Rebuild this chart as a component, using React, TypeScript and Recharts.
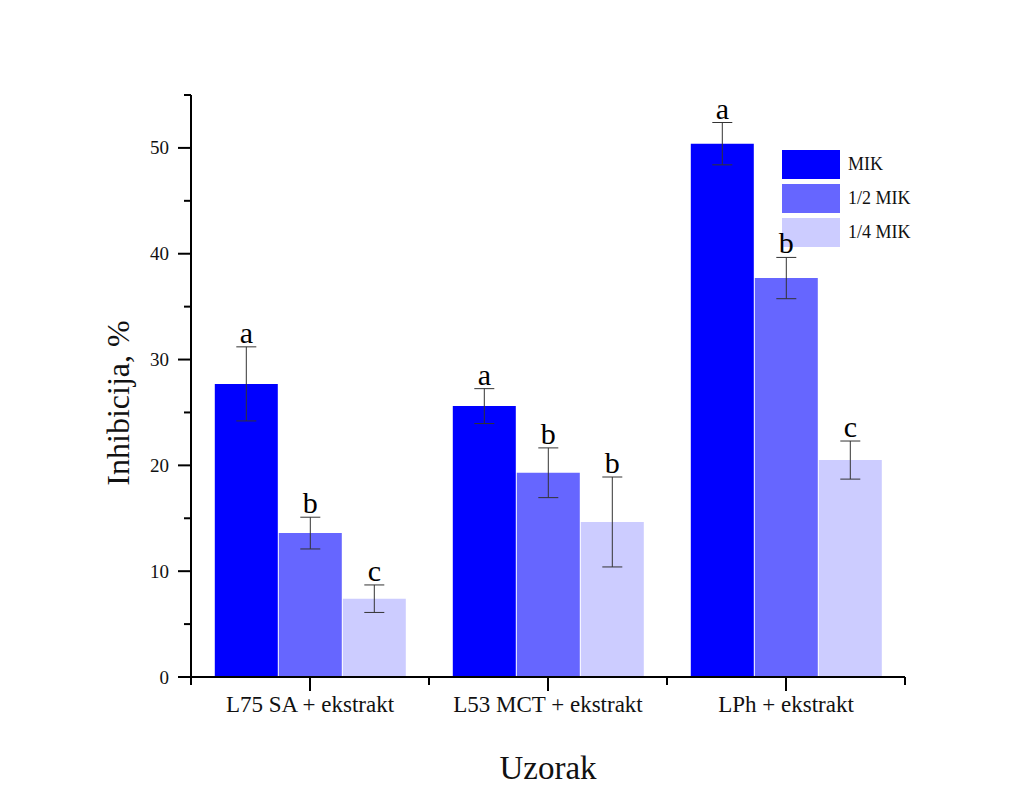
import React from "react";
import {
  BarChart,
  Bar,
  XAxis,
  YAxis,
  ErrorBar,
  LabelList,
  Legend,
} from "recharts";

const categories = ["L75 SA + ekstrakt", "L53 MCT + ekstrakt", "LPh + ekstrakt"];
const seriesNames = ["MIK", "1/2 MIK", "1/4 MIK"];
const seriesColors = ["#0000ff", "#6666ff", "#ccccff"];

const mik = [27.7, 25.6, 50.4];
const mikErr = [3.5, 1.65, 2.0];
const mikLetters = ["a", "a", "a"];

const half = [13.6, 19.3, 37.7];
const halfErr = [1.5, 2.35, 1.95];
const halfLetters = ["b", "b", "b"];

const quarter = [7.4, 14.65, 20.5];
const quarterErr = [1.3, 4.25, 1.8];
const quarterLetters = ["c", "b", "c"];

const yTicks = [0, 5, 10, 15, 20, 25, 30, 35, 40, 45, 50, 55];

const data = categories.map((name, i) => ({
  name,
  mik: mik[i],
  mikErr: mikErr[i],
  mikLetter: mikLetters[i],
  half: half[i],
  halfErr: halfErr[i],
  halfLetter: halfLetters[i],
  quarter: quarter[i],
  quarterErr: quarterErr[i],
  quarterLetter: quarterLetters[i],
}));

const FONT = "'Liberation Serif', 'DejaVu Serif', serif";
const CHART_W = 1017;
const CHART_H = 786;
const MARGIN = { top: 87, right: 120, bottom: 0, left: 0 };
const Y_AXIS_W = 183;
const X_AXIS_H = 117;
const PLOT_W = CHART_W - MARGIN.left - MARGIN.right - Y_AXIS_W;

const XTick = (props: any) => {
  const { x, y, payload } = props;
  const band = PLOT_W / categories.length;
  return (
    <g>
      <line x1={x} y1={y} x2={x} y2={y + 14} stroke="#000" strokeWidth={2} />
      <line x1={x - band / 2} y1={y} x2={x - band / 2} y2={y + 8} stroke="#000" strokeWidth={2} />
      <line x1={x + band / 2} y1={y} x2={x + band / 2} y2={y + 8} stroke="#000" strokeWidth={2} />
      <text x={x} y={y + 35} textAnchor="middle" fontSize={23} fontFamily={FONT} fill="#111">
        {payload.value}
      </text>
    </g>
  );
};

const YTick = (props: any) => {
  const { x, y, payload } = props;
  const major = payload.value % 10 === 0;
  return (
    <g>
      <line x1={x - (major ? 13 : 7)} y1={y} x2={x} y2={y} stroke="#000" strokeWidth={2} />
      {major && (
        <text x={x - 22} y={y} textAnchor="end" dominantBaseline="central" fontSize={19} fontFamily={FONT} fill="#111">
          {payload.value}
        </text>
      )}
    </g>
  );
};

const makeLetter = (valueKey: string, errKey: string) => (props: any) => {
  const { x, y, width, height, index, value } = props;
  const row: any = data[index];
  if (!row) return null;
  const perUnit = height / row[valueKey];
  const top = y - row[errKey] * perUnit;
  return (
    <text x={x + width / 2} y={top - 4} textAnchor="middle" fontSize={30} fontFamily={FONT} fill="#000">
      {value}
    </text>
  );
};

const YTitle = (props: any) => {
  const vb = props.viewBox;
  const cx = 110;
  const cy = vb.y + vb.height / 2 + 17;
  return (
    <text
      x={cx}
      y={cy}
      transform={`rotate(-90, ${cx}, ${cy})`}
      textAnchor="middle"
      dominantBaseline="central"
      fontSize={32}
      fontFamily={FONT}
      fill="#111"
    >
      Inhibicija, %
    </text>
  );
};

const XTitle = (props: any) => {
  const vb = props.viewBox;
  return (
    <text x={vb.x + vb.width / 2} y={771} textAnchor="middle" fontSize={33} fontFamily={FONT} fill="#111">
      Uzorak
    </text>
  );
};

const LegendBox = () => (
  <div style={{ fontFamily: FONT, fontSize: 18, color: "#111" }}>
    {seriesNames.map((n, i) => (
      <div key={n} style={{ display: "flex", alignItems: "center", height: 34 }}>
        <div style={{ width: 58, height: 29, background: seriesColors[i] }} />
        <span style={{ marginLeft: 8 }}>{n}</span>
      </div>
    ))}
  </div>
);

export default function App() {
  return (
    <BarChart
      width={CHART_W}
      height={CHART_H}
      data={data}
      margin={MARGIN}
      barCategoryGap="10%"
      barGap={1}
    >
      <XAxis
        dataKey="name"
        height={X_AXIS_H}
        axisLine={{ stroke: "#000", strokeWidth: 2 }}
        tickLine={false}
        tickSize={0}
        tickMargin={0}
        tick={<XTick />}
        interval={0}
        label={<XTitle />}
      />
      <YAxis
        width={Y_AXIS_W}
        domain={[0, 55]}
        ticks={yTicks}
        interval={0}
        axisLine={{ stroke: "#000", strokeWidth: 2 }}
        tickLine={false}
        tickSize={0}
        tickMargin={0}
        tick={<YTick />}
        label={<YTitle />}
      />
      <Legend
        layout="vertical"
        align="center"
        verticalAlign="middle"
        content={<LegendBox />}
        wrapperStyle={{ left: 774, top: 139, width: 200, height: 110, zIndex: -1 }}
      />
      <Bar dataKey="mik" name="MIK" fill={seriesColors[0]} isAnimationActive={false}>
        <ErrorBar dataKey="mikErr" width={10} stroke="#333" strokeWidth={1} direction="y" />
        <LabelList dataKey="mikLetter" content={makeLetter("mik", "mikErr")} />
      </Bar>
      <Bar dataKey="half" name="1/2 MIK" fill={seriesColors[1]} isAnimationActive={false}>
        <ErrorBar dataKey="halfErr" width={10} stroke="#333" strokeWidth={1} direction="y" />
        <LabelList dataKey="halfLetter" content={makeLetter("half", "halfErr")} />
      </Bar>
      <Bar dataKey="quarter" name="1/4 MIK" fill={seriesColors[2]} isAnimationActive={false}>
        <ErrorBar dataKey="quarterErr" width={10} stroke="#333" strokeWidth={1} direction="y" />
        <LabelList dataKey="quarterLetter" content={makeLetter("quarter", "quarterErr")} />
      </Bar>
    </BarChart>
  );
}
